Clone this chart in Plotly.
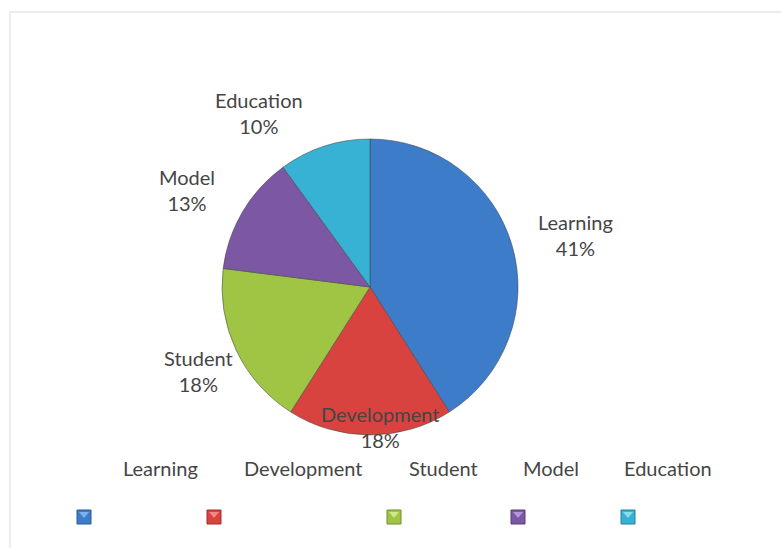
import plotly.graph_objects as go

# ---- data ----
categories = ["Learning", "Development", "Student", "Model", "Education"]
values = [41, 18, 18, 13, 10]

# ---- styles ----
colors = ["#3d7cc9", "#d9433f", "#a0c444", "#7b57a4", "#37b2d4"]
dark_colors = ["#2a5a96", "#a02f2c", "#6f8f2c", "#553c75", "#23819c"]
light_colors = ["#7fb0ee", "#f08884", "#cfe88a", "#b596d6", "#86def2"]
W, H = 781, 548
# label block centres (pixels) for slice labels
label_pos = [(575, 235), (380, 427), (198, 371), (187, 190), (259, 113)]
# legend text centres and marker centres (pixels)
legend_text_x = [160, 303, 443, 551, 668]
legend_text_y = 468
legend_marker_x = [84, 214, 394, 518, 628]
legend_marker_y = 517
marker_half = 7

FONT = "Lato"
TXT = "#454545"
FS = 20

def px(x):
    return x / W

def py(y):
    return 1 - y / H

cx, cy, r = 370, 287, 148

fig = go.Figure()
fig.add_trace(go.Pie(
    labels=categories,
    values=values,
    sort=False,
    direction="clockwise",
    rotation=0,
    marker=dict(colors=colors, line=dict(color="rgba(70,70,70,0.55)", width=1)),
    textinfo="none",
    hoverinfo="label+percent",
    showlegend=False,
    domain=dict(x=[px(cx - r), px(cx + r)], y=[py(cy + r), py(cy - r)]),
))

total = sum(values)
annotations = []
for cat, val, (lx, ly) in zip(categories, values, label_pos):
    pct = round(100 * val / total)
    annotations.append(dict(
        x=px(lx), y=py(ly), xref="paper", yref="paper",
        text=f"{cat}<br>{pct}%", showarrow=False,
        xanchor="center", yanchor="middle",
        font=dict(family=FONT, size=FS, color=TXT),
    ))

for cat, tx in zip(categories, legend_text_x):
    annotations.append(dict(
        x=px(tx), y=py(legend_text_y), xref="paper", yref="paper",
        text=cat, showarrow=False, xanchor="center", yanchor="middle",
        font=dict(family=FONT, size=FS, color=TXT),
    ))

shapes = [dict(
    type="rect", xref="paper", yref="paper",
    x0=px(10), x1=1.02, y0=-0.02, y1=py(12),
    line=dict(color="#d9d9d9", width=1), fillcolor="rgba(0,0,0,0)", layer="below",
)]

for col, dcol, lcol, mx in zip(colors, dark_colors, light_colors, legend_marker_x):
    x0, x1 = px(mx - marker_half), px(mx + marker_half)
    y0, y1 = py(legend_marker_y + marker_half), py(legend_marker_y - marker_half)
    shapes.append(dict(type="rect", xref="paper", yref="paper",
                       x0=x0, x1=x1, y0=y0, y1=y1,
                       fillcolor=col, line=dict(color=dcol, width=1)))
    # light top triangle for bevel look
    tx0, tx1 = mx - marker_half + 2, mx + marker_half - 2
    ty0 = legend_marker_y - marker_half + 2
    path = (f"M {px(tx0)} {py(ty0)} L {px(tx1)} {py(ty0)} "
            f"L {px(mx)} {py(legend_marker_y + 1)} Z")
    shapes.append(dict(type="path", xref="paper", yref="paper", path=path,
                       fillcolor=lcol, line=dict(width=0)))

fig.update_layout(
    width=W, height=H,
    margin=dict(l=0, r=0, t=0, b=0),
    paper_bgcolor="white", plot_bgcolor="white",
    annotations=annotations, shapes=shapes,
    font=dict(family=FONT),
)

fig.write_html("out.html",
               config={"displayModeBar": False},
               post_script="document.body.style.margin='0';document.body.style.overflow='hidden';")
